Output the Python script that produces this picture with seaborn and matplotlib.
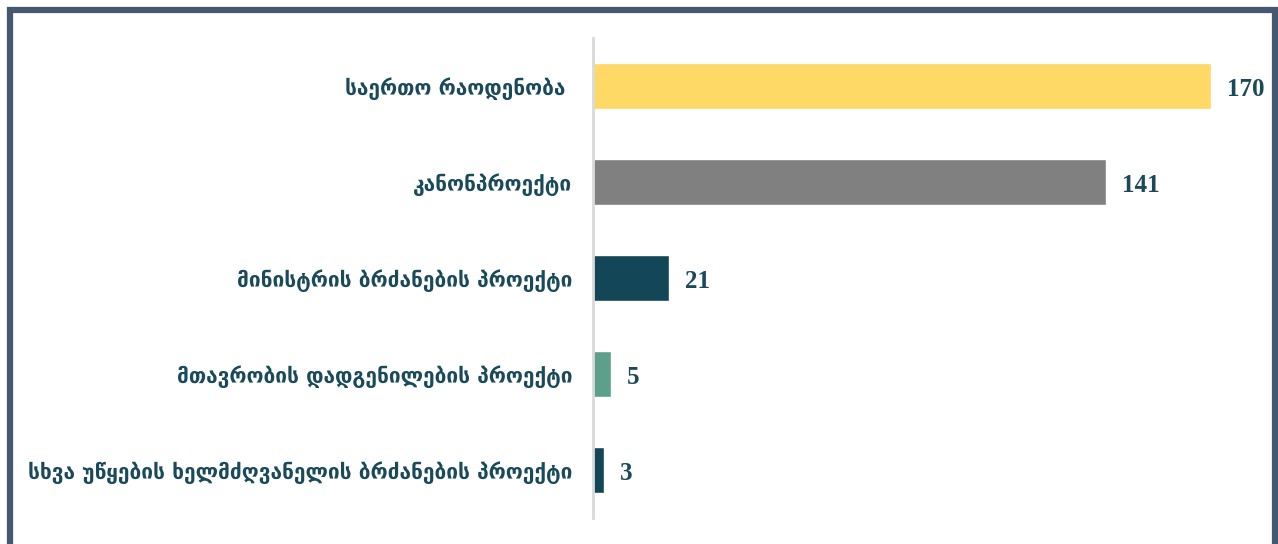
import matplotlib
matplotlib.use("Agg")
import matplotlib.pyplot as plt
import seaborn as sns
import pandas as pd
from matplotlib.patches import Rectangle

categories = [
    "საერთო რაოდენობა ",
    "კანონპროექტი",
    "მინისტრის ბრძანების პროექტი",
    "მთავრობის დადგენილების პროექტი",
    "სხვა უწყების ხელმძღვანელის ბრძანების პროექტი",
]
values = [170, 141, 21, 5, 3]
colors = ["#FED966", "#808080", "#134657", "#5CA08B", "#134657"]

text_color = "#1A4A5A"
frame_color = "#46586F"

df = pd.DataFrame({"category": categories, "value": values})

sns.set_theme(style="white")
plt.rcParams["font.family"] = ["DejaVu Sans"]

fig = plt.figure(figsize=(12.78, 5.44), dpi=100)
ax = fig.add_axes([593 / 1278, 1 - 518 / 544, (1262 - 593) / 1278, 480 / 544])

sns.barplot(data=df, x="value", y="category", hue="category",
            palette=colors, legend=False, width=0.48, ax=ax,
            saturation=1, orient="h")

ax.set_xlim(0, (1262 - 593) / 3.635)
ax.set_ylim(4.5, -0.5)
ax.set_xlabel("")
ax.set_ylabel("")
ax.set_xticks([])
for s in ["top", "right", "bottom"]:
    ax.spines[s].set_visible(False)
ax.spines["left"].set_color("#D9D9D9")
ax.spines["left"].set_linewidth(2)

ax.tick_params(axis="y", length=0, pad=15)
for lbl in ax.get_yticklabels():
    lbl.set_fontsize(15)
    lbl.set_fontweight("bold")
    lbl.set_color(text_color)

for cont in ax.containers:
    texts = ax.bar_label(cont, fmt="%d", padding=11.5, color=text_color,
                         fontsize=18, fontweight="bold",
                         family="Liberation Serif")
    # nudge the value labels slightly below the bar centre line
    for t in texts:
        dx, dy = t.xyann
        t.xyann = (dx, dy - 2.8)

# Outer frame, open at the bottom edge of the figure
frame = Rectangle((10 / 1278, -0.05), (1275 - 10) / 1278, 1.05 - 9.5 / 544,
                  transform=fig.transFigure, fill=False,
                  edgecolor=frame_color, linewidth=4.5, clip_on=False)
fig.patches.append(frame)

fig.savefig("out.png", dpi=100, facecolor="white")
